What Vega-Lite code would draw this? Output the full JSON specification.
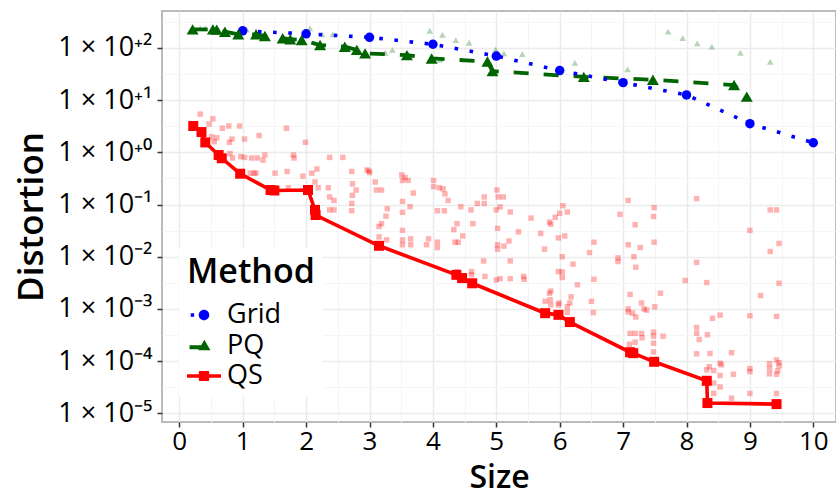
{
 "$schema": "https://vega.github.io/schema/vega-lite/v6.json",
 "width": 674, "height": 411,
 "autosize": "none",
 "padding": {"left": 162, "top": 11, "right": 0, "bottom": 74},
 "background": "white",
 "datasets": {
  "front": [
   {"Method":"Grid","Size":1,"Distortion":213},{"Method":"Grid","Size":2,"Distortion":187},{"Method":"Grid","Size":3,"Distortion":160},{"Method":"Grid","Size":4,"Distortion":118},{"Method":"Grid","Size":5,"Distortion":70},{"Method":"Grid","Size":6,"Distortion":37},{"Method":"Grid","Size":7,"Distortion":21.7},{"Method":"Grid","Size":8,"Distortion":12.6},{"Method":"Grid","Size":9,"Distortion":3.55},{"Method":"Grid","Size":10,"Distortion":1.53},
   {"Method":"PQ","Size":0.21,"Distortion":228},{"Method":"PQ","Size":0.53,"Distortion":228},{"Method":"PQ","Size":0.59,"Distortion":225},{"Method":"PQ","Size":0.72,"Distortion":205},{"Method":"PQ","Size":0.93,"Distortion":183},{"Method":"PQ","Size":1.21,"Distortion":183},{"Method":"PQ","Size":1.35,"Distortion":170},{"Method":"PQ","Size":1.63,"Distortion":154},{"Method":"PQ","Size":1.75,"Distortion":147},{"Method":"PQ","Size":1.93,"Distortion":142},{"Method":"PQ","Size":2.22,"Distortion":114},{"Method":"PQ","Size":2.61,"Distortion":106},{"Method":"PQ","Size":2.8,"Distortion":92},{"Method":"PQ","Size":2.93,"Distortion":79},{"Method":"PQ","Size":3.59,"Distortion":73},{"Method":"PQ","Size":3.98,"Distortion":63},{"Method":"PQ","Size":4.86,"Distortion":55},{"Method":"PQ","Size":4.94,"Distortion":36},{"Method":"PQ","Size":6.38,"Distortion":28},{"Method":"PQ","Size":7.47,"Distortion":24.6},{"Method":"PQ","Size":8.75,"Distortion":19.5},{"Method":"PQ","Size":8.95,"Distortion":11.7},
   {"Method":"QS","Size":0.22,"Distortion":3.2},{"Method":"QS","Size":0.35,"Distortion":2.45},{"Method":"QS","Size":0.41,"Distortion":1.55},{"Method":"QS","Size":0.62,"Distortion":0.89},{"Method":"QS","Size":0.67,"Distortion":0.77},{"Method":"QS","Size":0.96,"Distortion":0.39},{"Method":"QS","Size":1.44,"Distortion":0.19},{"Method":"QS","Size":1.5,"Distortion":0.186},{"Method":"QS","Size":2.03,"Distortion":0.19},{"Method":"QS","Size":2.14,"Distortion":0.079},{"Method":"QS","Size":2.15,"Distortion":0.063},{"Method":"QS","Size":3.15,"Distortion":0.0162},{"Method":"QS","Size":4.37,"Distortion":0.0045},{"Method":"QS","Size":4.46,"Distortion":0.0039},{"Method":"QS","Size":4.62,"Distortion":0.0031},{"Method":"QS","Size":5.77,"Distortion":0.00083},{"Method":"QS","Size":5.98,"Distortion":0.00077},{"Method":"QS","Size":6.16,"Distortion":0.00056},{"Method":"QS","Size":7.11,"Distortion":0.000148},{"Method":"QS","Size":7.16,"Distortion":0.000142},{"Method":"QS","Size":7.49,"Distortion":0.000097},{"Method":"QS","Size":8.32,"Distortion":0.000042},{"Method":"QS","Size":8.33,"Distortion":0.0000157},{"Method":"QS","Size":9.42,"Distortion":0.000015}
  ],
  "faint": [
   {"Method":"PQ","Size":0.33,"Distortion":239},{"Method":"PQ","Size":0.41,"Distortion":239},{"Method":"PQ","Size":1.06,"Distortion":228},{"Method":"PQ","Size":2.06,"Distortion":239},{"Method":"PQ","Size":2.25,"Distortion":183},{"Method":"PQ","Size":2.42,"Distortion":183},{"Method":"PQ","Size":3.25,"Distortion":81},{"Method":"PQ","Size":3.36,"Distortion":92},{"Method":"PQ","Size":3.95,"Distortion":214},{"Method":"PQ","Size":4.11,"Distortion":59},{"Method":"PQ","Size":4.15,"Distortion":178},{"Method":"PQ","Size":4.36,"Distortion":142},{"Method":"PQ","Size":4.57,"Distortion":126},{"Method":"PQ","Size":4.99,"Distortion":94},{"Method":"PQ","Size":5.12,"Distortion":79},{"Method":"PQ","Size":5.41,"Distortion":76},{"Method":"PQ","Size":6.24,"Distortion":52},{"Method":"PQ","Size":7.07,"Distortion":39},{"Method":"PQ","Size":7.71,"Distortion":206},{"Method":"PQ","Size":7.94,"Distortion":154},{"Method":"PQ","Size":8.17,"Distortion":123},{"Method":"PQ","Size":8.4,"Distortion":106},{"Method":"PQ","Size":8.85,"Distortion":81},{"Method":"PQ","Size":9.32,"Distortion":54},
   {"Method":"QS","Size":0.33,"Distortion":5.4},{"Method":"QS","Size":0.53,"Distortion":4.4},{"Method":"QS","Size":0.47,"Distortion":3.5},{"Method":"QS","Size":0.68,"Distortion":2.9},{"Method":"QS","Size":0.78,"Distortion":3.2},{"Method":"QS","Size":0.95,"Distortion":3.2},{"Method":"QS","Size":1.26,"Distortion":2.1},{"Method":"QS","Size":1.69,"Distortion":2.9},{"Method":"QS","Size":0.51,"Distortion":2.0},{"Method":"QS","Size":0.59,"Distortion":1.9},{"Method":"QS","Size":0.55,"Distortion":1.6},{"Method":"QS","Size":0.83,"Distortion":1.8},{"Method":"QS","Size":0.79,"Distortion":1.56},{"Method":"QS","Size":1.03,"Distortion":1.8},{"Method":"QS","Size":1.99,"Distortion":1.56},{"Method":"QS","Size":0.8,"Distortion":0.95},{"Method":"QS","Size":0.84,"Distortion":0.78},{"Method":"QS","Size":0.97,"Distortion":0.83},{"Method":"QS","Size":1.03,"Distortion":0.8},{"Method":"QS","Size":1.14,"Distortion":0.78},{"Method":"QS","Size":1.23,"Distortion":0.78},{"Method":"QS","Size":1.32,"Distortion":0.71},{"Method":"QS","Size":1.35,"Distortion":0.89},{"Method":"QS","Size":1.8,"Distortion":0.89},{"Method":"QS","Size":1.81,"Distortion":0.78},{"Method":"QS","Size":2.37,"Distortion":0.8},{"Method":"QS","Size":2.58,"Distortion":0.8},{"Method":"QS","Size":1.12,"Distortion":0.4},{"Method":"QS","Size":1.18,"Distortion":0.4},{"Method":"QS","Size":1.21,"Distortion":0.4},{"Method":"QS","Size":1.51,"Distortion":0.4},{"Method":"QS","Size":1.7,"Distortion":0.43},{"Method":"QS","Size":1.95,"Distortion":0.35},{"Method":"QS","Size":2.09,"Distortion":0.4},{"Method":"QS","Size":2.17,"Distortion":0.48},{"Method":"QS","Size":2.14,"Distortion":0.27},{"Method":"QS","Size":1.72,"Distortion":0.21},{"Method":"QS","Size":2.19,"Distortion":0.21},{"Method":"QS","Size":2.35,"Distortion":0.21},{"Method":"QS","Size":2.37,"Distortion":0.14},{"Method":"QS","Size":2.44,"Distortion":0.12},{"Method":"QS","Size":2.37,"Distortion":0.079},{"Method":"QS","Size":2.44,"Distortion":0.079},
   {"Method":"QS","Size":2.96,"Distortion":0.46},{"Method":"QS","Size":2.99,"Distortion":0.44},{"Method":"QS","Size":3.0,"Distortion":0.41},{"Method":"QS","Size":2.72,"Distortion":0.43},{"Method":"QS","Size":3.09,"Distortion":0.27},{"Method":"QS","Size":2.73,"Distortion":0.25},{"Method":"QS","Size":2.79,"Distortion":0.19},{"Method":"QS","Size":3.11,"Distortion":0.19},{"Method":"QS","Size":3.19,"Distortion":0.19},{"Method":"QS","Size":2.73,"Distortion":0.15},{"Method":"QS","Size":2.72,"Distortion":0.105},{"Method":"QS","Size":2.72,"Distortion":0.076},{"Method":"QS","Size":3.28,"Distortion":0.083},{"Method":"QS","Size":3.26,"Distortion":0.06},{"Method":"QS","Size":3.19,"Distortion":0.043},{"Method":"QS","Size":3.15,"Distortion":0.038},{"Method":"QS","Size":3.15,"Distortion":0.024},{"Method":"QS","Size":3.27,"Distortion":0.021},{"Method":"QS","Size":3.51,"Distortion":0.37},{"Method":"QS","Size":3.56,"Distortion":0.33},{"Method":"QS","Size":3.61,"Distortion":0.29},{"Method":"QS","Size":3.52,"Distortion":0.29},{"Method":"QS","Size":3.69,"Distortion":0.166},{"Method":"QS","Size":3.52,"Distortion":0.115},{"Method":"QS","Size":3.52,"Distortion":0.071},{"Method":"QS","Size":3.64,"Distortion":0.091},{"Method":"QS","Size":3.52,"Distortion":0.032},{"Method":"QS","Size":3.52,"Distortion":0.021},{"Method":"QS","Size":3.65,"Distortion":0.022},{"Method":"QS","Size":3.65,"Distortion":0.017},{"Method":"QS","Size":3.52,"Distortion":0.017},{"Method":"QS","Size":4.01,"Distortion":0.29},{"Method":"QS","Size":4.01,"Distortion":0.22},{"Method":"QS","Size":4.1,"Distortion":0.21},{"Method":"QS","Size":4.16,"Distortion":0.2},{"Method":"QS","Size":4.19,"Distortion":0.16},{"Method":"QS","Size":4.24,"Distortion":0.12},{"Method":"QS","Size":4.07,"Distortion":0.076},{"Method":"QS","Size":4.18,"Distortion":0.076},{"Method":"QS","Size":4.44,"Distortion":0.091},{"Method":"QS","Size":4.6,"Distortion":0.079},{"Method":"QS","Size":4.7,"Distortion":0.105},{"Method":"QS","Size":4.81,"Distortion":0.105},{"Method":"QS","Size":4.81,"Distortion":0.14},{"Method":"QS","Size":4.38,"Distortion":0.043},{"Method":"QS","Size":4.33,"Distortion":0.033},{"Method":"QS","Size":4.47,"Distortion":0.025},{"Method":"QS","Size":4.63,"Distortion":0.043},{"Method":"QS","Size":3.93,"Distortion":0.022},{"Method":"QS","Size":3.9,"Distortion":0.017},{"Method":"QS","Size":4.07,"Distortion":0.019},{"Method":"QS","Size":4.07,"Distortion":0.015},{"Method":"QS","Size":4.35,"Distortion":0.019},{"Method":"QS","Size":4.4,"Distortion":0.019},{"Method":"QS","Size":4.8,"Distortion":0.0083},{"Method":"QS","Size":4.82,"Distortion":0.0042},{"Method":"QS","Size":4.61,"Distortion":0.0052},{"Method":"QS","Size":4.61,"Distortion":0.0045},{"Method":"QS","Size":4.38,"Distortion":0.0052},
   {"Method":"QS","Size":5.01,"Distortion":0.19},{"Method":"QS","Size":5.03,"Distortion":0.14},{"Method":"QS","Size":5.11,"Distortion":0.14},{"Method":"QS","Size":5.06,"Distortion":0.09},{"Method":"QS","Size":5.0,"Distortion":0.079},{"Method":"QS","Size":5.22,"Distortion":0.072},{"Method":"QS","Size":5.02,"Distortion":0.035},{"Method":"QS","Size":5.02,"Distortion":0.017},{"Method":"QS","Size":5.02,"Distortion":0.014},{"Method":"QS","Size":5.12,"Distortion":0.016},{"Method":"QS","Size":5.2,"Distortion":0.02},{"Method":"QS","Size":5.22,"Distortion":0.0083},{"Method":"QS","Size":5.0,"Distortion":0.0036},{"Method":"QS","Size":5.06,"Distortion":0.0038},{"Method":"QS","Size":5.22,"Distortion":0.0038},{"Method":"QS","Size":5.43,"Distortion":0.0042},{"Method":"QS","Size":5.44,"Distortion":0.0037},{"Method":"QS","Size":5.55,"Distortion":0.055},{"Method":"QS","Size":5.35,"Distortion":0.03},{"Method":"QS","Size":5.7,"Distortion":0.028},{"Method":"QS","Size":5.76,"Distortion":0.014},{"Method":"QS","Size":5.84,"Distortion":0.046},{"Method":"QS","Size":5.86,"Distortion":0.042},{"Method":"QS","Size":5.93,"Distortion":0.057},{"Method":"QS","Size":6.0,"Distortion":0.068},{"Method":"QS","Size":6.05,"Distortion":0.095},{"Method":"QS","Size":6.12,"Distortion":0.072},{"Method":"QS","Size":5.98,"Distortion":0.023},{"Method":"QS","Size":6.08,"Distortion":0.025},{"Method":"QS","Size":6.04,"Distortion":0.01},{"Method":"QS","Size":6.21,"Distortion":0.0072},{"Method":"QS","Size":5.98,"Distortion":0.0052},{"Method":"QS","Size":6.04,"Distortion":0.0051},{"Method":"QS","Size":6.04,"Distortion":0.004},{"Method":"QS","Size":6.28,"Distortion":0.0029},{"Method":"QS","Size":5.86,"Distortion":0.0022},{"Method":"QS","Size":5.84,"Distortion":0.002},{"Method":"QS","Size":5.77,"Distortion":0.0014},{"Method":"QS","Size":5.85,"Distortion":0.0015},{"Method":"QS","Size":5.86,"Distortion":0.0012},{"Method":"QS","Size":5.99,"Distortion":0.0013},{"Method":"QS","Size":5.98,"Distortion":0.0012},{"Method":"QS","Size":6.18,"Distortion":0.0017},{"Method":"QS","Size":6.16,"Distortion":0.0013},{"Method":"QS","Size":6.12,"Distortion":0.0011},{"Method":"QS","Size":6.12,"Distortion":0.00086},{"Method":"QS","Size":6.5,"Distortion":0.0014},{"Method":"QS","Size":6.53,"Distortion":0.00085},{"Method":"QS","Size":6.54,"Distortion":0.019},{"Method":"QS","Size":6.47,"Distortion":0.012},{"Method":"QS","Size":6.54,"Distortion":0.0037},
   {"Method":"QS","Size":7.08,"Distortion":0.12},{"Method":"QS","Size":6.95,"Distortion":0.065},{"Method":"QS","Size":7.19,"Distortion":0.041},{"Method":"QS","Size":7.08,"Distortion":0.017},{"Method":"QS","Size":7.27,"Distortion":0.015},{"Method":"QS","Size":6.92,"Distortion":0.0095},{"Method":"QS","Size":6.92,"Distortion":0.0081},{"Method":"QS","Size":7.17,"Distortion":0.01},{"Method":"QS","Size":7.2,"Distortion":0.0063},{"Method":"QS","Size":7.11,"Distortion":0.0019},{"Method":"QS","Size":7.08,"Distortion":0.001},{"Method":"QS","Size":7.08,"Distortion":0.00087},{"Method":"QS","Size":7.15,"Distortion":0.00083},{"Method":"QS","Size":7.2,"Distortion":0.0007},{"Method":"QS","Size":7.29,"Distortion":0.0013},{"Method":"QS","Size":7.33,"Distortion":0.001},{"Method":"QS","Size":7.37,"Distortion":0.00095},{"Method":"QS","Size":7.11,"Distortion":0.00034},{"Method":"QS","Size":7.19,"Distortion":0.00034},{"Method":"QS","Size":7.29,"Distortion":0.00034},{"Method":"QS","Size":7.3,"Distortion":0.00028},{"Method":"QS","Size":7.1,"Distortion":0.00021},{"Method":"QS","Size":7.19,"Distortion":0.00023},
   {"Method":"QS","Size":7.49,"Distortion":0.087},{"Method":"QS","Size":7.48,"Distortion":0.059},{"Method":"QS","Size":7.49,"Distortion":0.019},{"Method":"QS","Size":8.16,"Distortion":0.13},{"Method":"QS","Size":8.16,"Distortion":0.0078},{"Method":"QS","Size":7.98,"Distortion":0.0035},{"Method":"QS","Size":8.32,"Distortion":0.0032},{"Method":"QS","Size":7.59,"Distortion":0.002},{"Method":"QS","Size":7.5,"Distortion":0.0011},{"Method":"QS","Size":9.0,"Distortion":0.032},{"Method":"QS","Size":9.32,"Distortion":0.079},{"Method":"QS","Size":9.42,"Distortion":0.079},{"Method":"QS","Size":9.32,"Distortion":0.0126},{"Method":"QS","Size":9.46,"Distortion":0.018},{"Method":"QS","Size":9.46,"Distortion":0.0031},{"Method":"QS","Size":9.17,"Distortion":0.0018},{"Method":"QS","Size":9.0,"Distortion":0.00074},{"Method":"QS","Size":9.42,"Distortion":0.00072},{"Method":"QS","Size":8.41,"Distortion":0.00066},{"Method":"QS","Size":8.53,"Distortion":0.00076},{"Method":"QS","Size":8.16,"Distortion":0.00044},{"Method":"QS","Size":8.16,"Distortion":0.00034},{"Method":"QS","Size":7.48,"Distortion":0.00036},{"Method":"QS","Size":7.48,"Distortion":0.0003},{"Method":"QS","Size":7.48,"Distortion":0.00022},{"Method":"QS","Size":7.48,"Distortion":0.00015},{"Method":"QS","Size":7.63,"Distortion":0.0003},{"Method":"QS","Size":8.33,"Distortion":0.00032},{"Method":"QS","Size":8.2,"Distortion":0.00026},{"Method":"QS","Size":8.16,"Distortion":0.000138},{"Method":"QS","Size":8.37,"Distortion":0.00014},{"Method":"QS","Size":8.71,"Distortion":0.000145},{"Method":"QS","Size":8.53,"Distortion":0.000091},{"Method":"QS","Size":8.55,"Distortion":0.000085},{"Method":"QS","Size":8.36,"Distortion":0.000078},{"Method":"QS","Size":8.32,"Distortion":0.000068},{"Method":"QS","Size":8.43,"Distortion":0.000066},{"Method":"QS","Size":8.53,"Distortion":0.000053},{"Method":"QS","Size":8.74,"Distortion":0.000056},{"Method":"QS","Size":8.43,"Distortion":0.000038},{"Method":"QS","Size":8.53,"Distortion":0.000032},{"Method":"QS","Size":8.43,"Distortion":0.000024},{"Method":"QS","Size":8.71,"Distortion":0.0000195},{"Method":"QS","Size":9.0,"Distortion":0.000072},{"Method":"QS","Size":9.0,"Distortion":0.000063},{"Method":"QS","Size":9.0,"Distortion":0.000024},{"Method":"QS","Size":9.31,"Distortion":0.000089},{"Method":"QS","Size":9.31,"Distortion":0.000072},{"Method":"QS","Size":9.31,"Distortion":0.000057},{"Method":"QS","Size":9.42,"Distortion":0.000105},{"Method":"QS","Size":9.46,"Distortion":0.000093},{"Method":"QS","Size":9.46,"Distortion":0.000081},{"Method":"QS","Size":9.44,"Distortion":0.000065},{"Method":"QS","Size":9.42,"Distortion":0.000056},{"Method":"QS","Size":9.42,"Distortion":0.000024}
  ]
 },
 "encoding": {
  "x": {"field": "Size", "type": "quantitative",
   "scale": {"domain": [-0.273, 10.358], "nice": false, "zero": false},
   "axis": {"title": "Size", "values": [0,0.5,1,1.5,2,2.5,3,3.5,4,4.5,5,5.5,6,6.5,7,7.5,8,8.5,9,9.5,10],
    "labelExpr": "datum.value % 1 == 0 ? format(datum.value, 'd') : ''",
    "tickOpacity": {"condition": {"test": "datum.value % 1 != 0", "value": 0}, "value": 1},
    "gridColor": {"condition": {"test": "datum.value % 1 != 0", "value": "#f5f5f5"}, "value": "#ebebeb"},
    "gridWidth": {"condition": {"test": "datum.value % 1 != 0", "value": 1}, "value": 1.5},
    "labelFontSize": 26, "labelPadding": 1, "titlePadding": 8, "titleFontSize": 32}},
  "y": {"field": "Distortion", "type": "quantitative",
   "scale": {"type": "log", "domain": [0.00000681, 511.7], "nice": false, "zero": false},
   "axis": {"title": "Distortion", "values": [0.00001,0.000031623,0.0001,0.00031623,0.001,0.0031623,0.01,0.031623,0.1,0.31623,1,3.1623,10,31.623,100,316.23],
    "labelExpr": "abs(log(datum.value)/LN10 - round(log(datum.value)/LN10)) > 0.1 ? '' : ['1 × 10⁻⁵','1 × 10⁻⁴','1 × 10⁻³','1 × 10⁻²','1 × 10⁻¹','1 × 10⁺⁰','1 × 10⁺¹','1 × 10⁺²'][round(log(datum.value)/LN10)+5]",
    "tickOpacity": {"condition": {"test": "abs(log(datum.value)/LN10 - round(log(datum.value)/LN10)) > 0.1", "value": 0}, "value": 1},
    "gridColor": {"condition": {"test": "abs(log(datum.value)/LN10 - round(log(datum.value)/LN10)) > 0.1", "value": "#f5f5f5"}, "value": "#ebebeb"},
    "gridWidth": {"condition": {"test": "abs(log(datum.value)/LN10 - round(log(datum.value)/LN10)) > 0.1", "value": 1}, "value": 1.5},
    "labelFontSize": 27, "labelPadding": 5, "titlePadding": 8, "titleFontSize": 35}}
 },
 "layer": [
  {"data": {"name": "faint"}, "transform": [{"filter": "datum.Method == 'PQ'"}],
   "mark": {"type": "point", "shape": "triangle-up", "filled": true, "size": 45, "opacity": 0.28, "color": "#006400"}},
  {"data": {"name": "faint"}, "transform": [{"filter": "datum.Method == 'QS'"}],
   "mark": {"type": "point", "shape": "square", "filled": true, "size": 30, "opacity": 0.3, "color": "#ff0000"}},
  {"data": {"name": "front"}, "transform": [{"filter": "datum.Method == 'QS'"}],
   "mark": {"type": "line", "strokeWidth": 3.6, "color": "#ff0000"}, "encoding": {}},
  {"data": {"name": "front"}, "transform": [{"filter": "datum.Method == 'PQ'"}],
   "mark": {"type": "line", "strokeWidth": 3.8, "strokeCap": "butt", "strokeDash": [15, 15], "color": "#006400"}, "encoding": {}},
  {"data": {"name": "front"}, "transform": [{"filter": "datum.Method == 'Grid'"}],
   "mark": {"type": "line", "strokeWidth": 3.6, "strokeCap": "butt", "strokeDash": [3.6, 11.6], "color": "#0000ff"}, "encoding": {}},
  {"data": {"name": "front"}, "transform": [{"filter": "datum.Method == 'Grid'"}],
   "mark": {"type": "point", "shape": "circle", "filled": true, "size": 90, "opacity": 1, "color": "#0000ff"}},
  {"data": {"name": "front"}, "transform": [{"filter": "datum.Method == 'PQ'"}],
   "mark": {"type": "point", "shape": "triangle-up", "filled": true, "size": 144, "opacity": 1, "color": "#006400"}},
  {"data": {"name": "front"}, "transform": [{"filter": "datum.Method == 'QS'"}],
   "mark": {"type": "point", "shape": "square", "filled": true, "size": 100, "opacity": 1, "color": "#ff0000"}},
  {"data": {"name": "front"},
   "mark": {"type": "point", "filled": true, "opacity": 0},
   "encoding": {
    "color": {"field": "Method", "type": "nominal", "title": "Method", "scale": {"domain": ["Grid","PQ","QS"], "range": ["#0000ff","#006400","#ff0000"]}},
    "shape": {"field": "Method", "type": "nominal", "title": "Method", "scale": {"domain": ["Grid","PQ","QS"], "range": [
      "M-0.78,-0.1H-0.58V0.1H-0.78Z M0.31,0A0.31,0.31,0,1,1,-0.31,0A0.31,0.31,0,1,1,0.31,0Z",
      "M-0.85,-0.02H0V0.22H-0.85Z M0.02,-0.34L0.38,0.28L-0.34,0.28Z",
      "M-1,-0.11H1V0.11H-1Z M-0.3,-0.3H0.3V0.3H-0.3Z"]}}}}
 ],
 "config": {
  "font": "Open Sans",
  "view": {"stroke": "#bbbbbb", "strokeWidth": 2},
  "axis": {"domain": false, "tickColor": "#333333", "tickWidth": 1.5, "tickSize": 5,
   "labelFont": "Open Sans", "labelFontSize": 25, "labelColor": "#000000",
   "titleFont": "Open Sans", "titleFontSize": 34, "titleFontWeight": 600, "titleColor": "#000000"},
  "legend": {"orient": "none", "legendX": 17, "legendY": 237, "fillColor": "white", "padding": 8,
   "titleFont": "Open Sans", "titleFontSize": 34, "titleFontWeight": 600, "titleColor": "#000000", "titlePadding": 8,
   "labelFont": "Open Sans", "labelFontSize": 27, "labelColor": "#000000", "labelOffset": 6,
   "symbolSize": 1156, "symbolStrokeWidth": 0, "symbolOpacity": 1, "rowPadding": 0.5}
 }
}
